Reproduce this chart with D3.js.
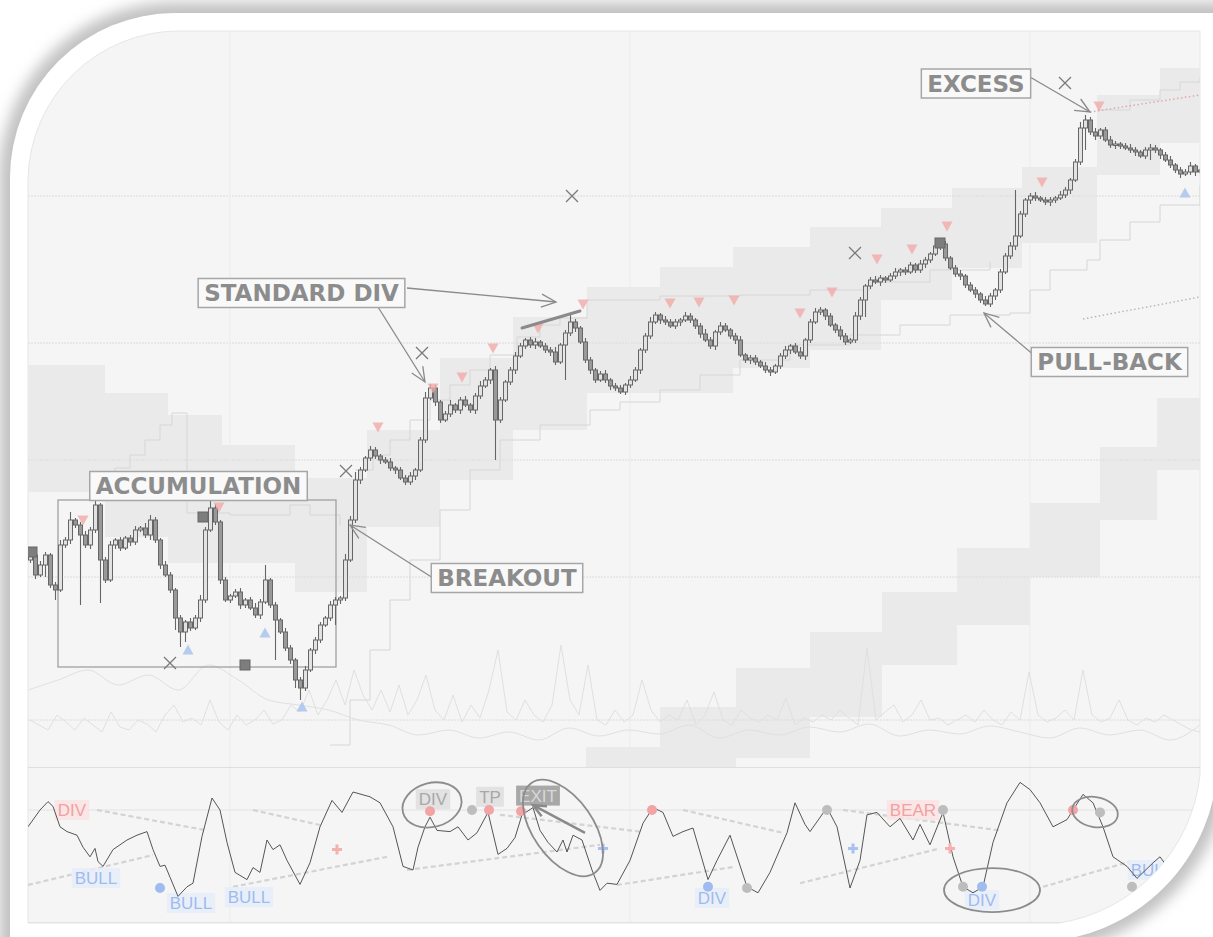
<!DOCTYPE html>
<html><head><meta charset="utf-8">
<script src="https://cdn.jsdelivr.net/npm/d3@7/dist/d3.min.js"></script>
<style>html,body{margin:0;padding:0;background:#fff;overflow:hidden}svg{display:block}</style>
</head><body>
<svg id="chart" width="1213" height="937"></svg>
<script>
// ---------------- DATA ----------------
const firstOpen = 240;
const closes = [
245,225,235,245,215,210,255,260,280,275,265,255,270,295,240,220,255,260,252,262,
258,270,272,265,280,260,235,225,210,182,168,178,172,182,200,270,292,278,220,200,
204,208,195,200,192,185,198,220,195,180,168,152,140,120,112,130,150,160,175,182,
195,200,202,240,280,320,330,342,350,344,340,338,332,330,322,318,324,330,360,402,
412,398,380,386,395,390,400,395,390,404,414,420,430,380,400,418,430,444,454,460,
455,458,454,450,448,438,455,467,478,472,458,440,430,420,426,420,414,412,408,415,
420,430,450,464,478,485,480,478,474,478,480,484,480,474,466,460,454,468,474,470,
464,460,445,440,442,438,434,430,428,434,444,450,454,448,444,460,478,488,490,484,
475,470,464,458,460,484,500,514,520,518,522,520,524,528,530,528,535,530,536,540,
546,554,556,542,532,526,524,515,510,506,500,496,504,510,528,544,554,564,586,600,
604,602,600,598,600,602,605,610,620,638,672,680,668,664,670,660,655,656,654,652,
650,648,644,650,652,650,645,640,635,630,626,628,634,628,630];
const wickUp = [
3,2,4,3,2,3,5,3,8,2,3,4,3,7,2,3,4,2,3,2,
3,4,2,5,5,3,2,4,3,2,3,2,4,3,5,3,8,4,2,3,
2,3,4,2,3,5,3,15,2,3,2,4,3,2,3,4,2,3,3,2,
4,3,2,6,4,8,3,2,4,3,2,3,4,2,3,3,4,2,3,6,
4,3,2,3,5,2,3,4,2,3,5,3,2,4,3,2,3,4,3,2,
3,4,2,3,3,5,2,3,9,3,2,4,3,2,3,4,2,3,3,2,
4,3,2,3,5,3,2,4,3,3,2,4,3,2,3,5,3,2,4,3,
2,3,4,2,3,3,2,4,3,2,3,4,2,3,5,2,3,4,3,2,
3,2,4,3,2,4,3,2,3,4,3,2,3,4,2,3,3,2,4,3,
2,3,4,3,2,3,4,2,3,3,2,4,3,2,3,3,4,46,3,2,
3,4,2,3,3,2,4,3,2,3,6,5,3,4,2,3,4,3,2,3,
4,3,2,3,4,3,2,3,4,2,3,3,4,2,3];
const wickDn = [
3,4,2,12,3,10,2,3,4,3,70,3,4,3,43,3,2,4,3,2,
4,3,2,3,5,3,4,2,3,12,15,10,3,2,4,3,2,3,4,2,
3,2,4,3,2,3,4,2,3,40,2,3,4,8,12,3,2,4,3,2,
3,20,4,3,2,3,4,2,3,3,4,2,3,4,2,3,3,4,2,3,
2,4,3,2,3,3,4,2,3,4,3,2,4,40,3,2,3,4,2,3,
3,4,2,3,4,3,2,35,3,4,2,3,4,3,2,3,4,3,2,3,
3,2,4,3,3,2,4,3,2,3,4,2,3,3,4,2,3,4,3,2,
3,4,2,3,4,3,2,3,4,2,3,3,4,2,3,4,3,2,3,4,
2,3,4,3,2,3,4,17,3,2,4,3,2,3,4,3,2,3,3,4,
3,2,4,3,2,3,4,3,2,4,3,2,3,4,3,2,3,4,2,3,
4,3,2,3,4,3,2,3,4,2,3,22,3,4,3,2,3,4,3,2,
3,4,2,3,10,3,4,2,3,3,4,2,3,4,3];
const volume = [40,35,30,45,38,30,42,35,28,48,33,30,40,36,28,45,55,38,42,35,60,38,30,45,35,40,50,36,40,55,48,70,45,60,80,55,90,65,50,70,48,75,45,60,85,50,40,65,38,55,42,70,110,48,40,60,45,38,55,115,60,45,95,40,35,50,38,45,80,50,38,45,40,60,35,45,68,40,35,50,42,38,45,40,62,35,42,38,45,40,50,42,35,112,40,48,55,38,45,60,40,42,35,40,45,38,50,40,35,48,40,88,45,38,42,50,40,90,45,38,42,60,40,35,42,38,45,40,35,30,28];
const volatility = [70,80,90,75,85,70,95,80,60,55,50,40,35,25,30,22,28,20,32,24,30,26,35,22,30,25,33,28,36,24,30,26,34,28,22,32,25,30,20,35];

const upperZoneStart = [-0.4,15,27.6,38.4,53,67.4,82,96.6,111.4,126,140.6,156,170.2,184.4,198.4,213.4,226];
const upperZoneEnd   = [15,27.6,38.4,53,67.4,82,96.6,111.4,126,140.6,156,170.2,184.4,198.4,213.4,226,235];
const upperZoneTop   = [435,407,385,355,322,370,442,483,513,533,553,573,592,612,633,705,732];
const upperZoneBottom= [308,263,237,237,208,273,320,370,407,407,432,450,500,532,557,625,657];
const lowerZoneStart = [111.2,126,141.2,156,170.4,185.4,200,214,225.4];
const lowerZoneEnd   = [126,141.2,156,170.4,185.4,200,214,225.4,235];
const lowerZoneTop   = [53,93,132,168,208,252,297,353,402];
const lowerZoneBottom= [33,33,42,83,135,175,223,280,330];

const gridPrices = [604,457,340,223,80];
const gridBars = [40,120,200];
const oscGrid = [75];

const supportSteps = [[60,55],[64,100],[68,150],[72,200],[76,240],[82,290],[88,330],[94,360],[102,375],[112,390],[118,398],[126,410],[134,425],[142,440],[152,455],[164,465],[174,475],[184,485],[196,487],[200,510],[204,530],[211.4,540],[214,560],[220,578],[226,595],[234,615]];
const resistSteps = [[65,330],[68.6,345],[72,360],[76,380],[80,400],[84,415],[88,430],[92,445],[97.4,463],[102,475],[106,482],[111.4,500],[126,504],[142,505],[156,510],[168,518],[180,530],[192,538]];
const earlySteps = [[14,320],[17,332],[20,345],[23,360],[26,375],[28.4,387],[31.4,287],[40,285],[52,295],[56,285],[62,275]];
const topSteps = [[213.4,690],[220,700],[226,710],[230,718],[234,723]];

const bearTriBar   = [10.6,37.8,69.6,80.6,86.4,92.6,101.6,110.6,128,133.8,140.8,154,160.4,169.4,176.4,183.4,202.4,213.8];
const bearTriPrice = [280,293,373,412,423,452,472,496,497,498,500,487,508,541,551,574,618,694];
const bullTriBar   = [31.6,47,54.4,231];
const bullTriPrice = [150,167,93,607];
const crossMarkBar   = [28,63.2,78.4,108.4,165,207];
const crossMarkPrice = [137,329,447,604,547,717];
const squareBar   = [0.4,34.6,43,182];
const squarePrice = [248,283,135,557];

const labelText  = ["ACCUMULATION","STANDARD DIV","BREAKOUT","PULL-BACK","EXCESS"];
const labelBar   = [33.7,54.3,95.4,215.9,189.2];
const labelPrice = [314,507,222,438,716.5];
const rangeBox = [5.6,300,61.2,133];
const arrowFrom = [[69.6,493],[75.4,512],[80.6,222],[201,444],[200,723]];
const arrowTo   = [[79,418],[105.2,498],[64,275],[190.8,487],[212,688]];
const divLine = [[98.4,472],[110,489]];
const dottedLines = [[212,688,234,705,"bear"],[210.6,481,234,503,"flat"]];

const oscBar = [-0.4,2,3.6,4.6,6,7.4,9.4,10.6,12,13,
13.6,14.6,16.6,19.4,21.4,23.4,24.6,26,27,28,
29.6,31.4,32.6,34.4,36.4,38,39.4,41,43.4,44.6,
46,47.4,48.6,50,51.4,54,56,58,60.4,62.4,
64.6,68,70,72.6,74.6,76.6,77.6,79,80,81.4,
84,85.6,87.6,89.4,91.6,93.6,95.4,97,98.4,100.6,
102,103.6,105.4,106.6,107.4,108.6,110.4,112.4,114,115.4,
117.4,120,122.6,124.6,126.6,128.6,130.6,132.6,135.6,137.4,
140,143.4,145.6,148,151.4,153,155,156,159.4,161.4,
164,166,167.4,169.4,172,174,176.6,178,180,182.6,
184.6,186.6,188.6,190.6,192.6,195.4,198,200,202,204.6,
207.4,210.6,212.6,214.6,216.6,219.4,221.4,224.6,226,227.4,
231,234];
const oscVal = [61,75,82,78,61,57,54,44,36,43,
32,28,42,50,54,57,42,28,29,19,
3,11,14,53,85,75,48,23,17,27,
23,50,42,46,33,13,31,61,83,73,
90,86,81,61,28,25,44,61,69,58,
57,61,50,56,73,38,43,52,71,77,
58,48,40,50,40,54,50,25,8,14,
13,33,64,77,73,53,57,60,17,33,
54,11,6,23,56,81,63,57,77,61,
10,33,71,73,61,68,50,63,46,73,
36,11,6,11,48,81,98,92,81,61,
67,88,81,61,36,28,18,31,36,28,
33,38];
const oscTrend = [[-0.4,12.5,24.6,37.5],[13.4,75,35.4,58],[44.6,75,58,62.5],[40.6,11,71.4,36],[75.4,25,114,46],[94,71,122,57],[130.6,75,150.6,56],[117.4,12.5,140.6,27.5],[154,14,182,43],[162.6,75,194,58],[202.6,11,220,32]];
const oscLabelText = ["DIV","BULL","BULL","BULL","DIV","TP","EXIT","DIV","BEAR","DIV","BULL"];
const oscLabelBar  = [8.4,13.2,32.2,43.8,80.6,92,101.6,136.4,176.6,190.4,224.4];
const oscLabelVal  = [75,18.3,-2.5,2.5,84,86,87,1.7,75,0,25];
const oscLabelKind = ["bear","bull","bull","bull","note","note","exit","bull","bear","bull","bull"];
const oscDotBar  = [26,80,88.4,91.8,98.2,124.4,135.6,143.4,159.4,182.6,186.6,190.4,208.6,214,220.4];
const oscDotVal  = [10,74,75,75,74,75,11,10,75,75,11,11,75,73,11];
const oscDotKind = ["bull","bear","flat","bear","bear","bear","bull","flat","flat","flat","flat","bull","bear","flat","flat"];
const oscCrossBar  = [61.4,114.6,164.6,184];
const oscCrossVal  = [42,43,43,43];
const oscCrossKind = ["bear","bull","bull","bear"];
const circleBar = [80.4,106.6,192.4,213];
const circleVal = [79.2,60,8.3,73.3];
const exitArrow = [[111,56],[100.6,79]];

// ---------------- SCALES ----------------
const x  = d3.scaleLinear().domain([0,234]).range([30,1200]);
const y  = d3.scaleLinear().domain([0,800]).range([800,0]);
const yo = d3.scaleLinear().domain([0,100]).range([900,780]);
const yv = d3.scaleLinear().domain([0,120]).range([760,640]);
const xv = d3.scaleLinear().domain([0,volume.length-1]).range([30,1200]);
const xa = d3.scaleLinear().domain([0,volatility.length-1]).range([28,1200]);

const svg = d3.select("#chart");
const defs = svg.append("defs");
defs.append("filter").attr("id","blur").attr("x","-10%").attr("y","-10%").attr("width","120%").attr("height","120%")
  .append("feGaussianBlur").attr("stdDeviation",7);

const framePath = "M10,178 A165,165 0 0 1 175,13 L1218,13 L1218,757 A185,185 0 0 1 1033,942 L10,942 Z";
const panelPath = "M28,179 A151,151 0 0 1 179,31 L1200,31 L1200,775 A168,168 0 0 1 1059,923 L28,923 Z";
defs.append("clipPath").attr("id","panelClip").append("path").attr("d",panelPath);

svg.append("rect").attr("width",1213).attr("height",937).attr("fill","#fff");
svg.append("path").attr("d",framePath).attr("fill","#c2c2c2").attr("stroke","#c2c2c2").attr("stroke-width",22).attr("filter","url(#blur)");
svg.append("path").attr("d",framePath).attr("fill","#fff");
svg.append("path").attr("d",panelPath).attr("fill","#f5f5f5").attr("stroke","#e6e6e6").attr("stroke-width",1);

const g = svg.append("g").attr("clip-path","url(#panelClip)");

// zones
const zoneFill = "#eaeaea";
g.selectAll(".uz").data(upperZoneStart).join("rect")
  .attr("x",(d,i)=>x(d)).attr("width",(d,i)=>x(upperZoneEnd[i])-x(d))
  .attr("y",(d,i)=>y(upperZoneTop[i])).attr("height",(d,i)=>y(upperZoneBottom[i])-y(upperZoneTop[i]))
  .attr("fill",zoneFill);
g.selectAll(".lz").data(lowerZoneStart).join("rect")
  .attr("x",(d,i)=>x(d)).attr("width",(d,i)=>x(lowerZoneEnd[i])-x(d))
  .attr("y",(d,i)=>y(lowerZoneTop[i])).attr("height",(d,i)=>y(lowerZoneBottom[i])-y(lowerZoneTop[i]))
  .attr("fill",zoneFill);

// grid
g.selectAll(".hg").data(gridPrices).join("line").attr("x1",28).attr("x2",1200)
  .attr("y1",d=>y(d)).attr("y2",d=>y(d)).attr("stroke","#dcdcdc").attr("stroke-width",1).attr("stroke-dasharray","2,1");
g.selectAll(".vg").data(gridBars).join("line").attr("x1",d=>x(d)).attr("x2",d=>x(d))
  .attr("y1",31).attr("y2",923).attr("stroke","#ebebeb").attr("stroke-width",1);
g.selectAll(".og").data(oscGrid).join("line").attr("x1",28).attr("x2",1200)
  .attr("y1",d=>yo(d)).attr("y2",d=>yo(d)).attr("stroke","#e2e2e2").attr("stroke-width",1);
g.append("line").attr("x1",28).attr("x2",1200).attr("y1",767.5).attr("y2",767.5).attr("stroke","#dedede");
g.append("line").attr("x1",28).attr("x2",1200).attr("y1",922.5).attr("y2",922.5).attr("stroke","#e2e2e2");

// volume & volatility lines
g.append("path").datum(volume).attr("fill","none").attr("stroke","#e0e0e0").attr("stroke-width",1)
  .attr("d",d3.line().x((d,i)=>xv(i)).y(d=>yv(d)));
g.append("path").datum(volatility).attr("fill","none").attr("stroke","#e0e0e0").attr("stroke-width",1)
  .attr("d",d3.line().x((d,i)=>xa(i)).y(d=>yv(d)).curve(d3.curveMonotoneX));

// step lines
const stepLine = d3.line().x(d=>x(d[0])).y(d=>y(d[1])).curve(d3.curveStepAfter);
[supportSteps,resistSteps,earlySteps,topSteps].forEach(s=>{
  g.append("path").datum(s).attr("fill","none").attr("stroke","#d6d6d6").attr("stroke-width",1).attr("d",stepLine);
});

// dotted lines
dottedLines.forEach(d=>{
  g.append("line").attr("x1",x(d[0])).attr("y1",y(d[1])).attr("x2",x(d[2])).attr("y2",y(d[3]))
   .attr("stroke",d[4]==="bear"?"#e0a8a8":"#b8b8b8").attr("stroke-width",1.5).attr("stroke-dasharray","1.5,2.5");
});

// range box
g.append("rect").attr("x",x(rangeBox[0])).attr("y",y(rangeBox[1]))
  .attr("width",x(rangeBox[2])-x(rangeBox[0])).attr("height",y(rangeBox[3])-y(rangeBox[1]))
  .attr("fill","none").attr("stroke","#9a9a9a").attr("stroke-width",1.2);

// candles
const candles = closes.map((c,i)=>{const o=i?closes[i-1]:firstOpen;return {i,o,c,h:Math.max(o,c)+wickUp[i],l:Math.min(o,c)-wickDn[i]};});
g.selectAll(".wick").data(candles).join("line")
  .attr("x1",d=>x(d.i)+0.5).attr("x2",d=>x(d.i)+0.5).attr("y1",d=>y(d.h)).attr("y2",d=>y(d.l))
  .attr("stroke","#666").attr("stroke-width",1.1);
g.selectAll(".body").data(candles).join("rect")
  .attr("x",d=>x(d.i)-1.5).attr("width",4)
  .attr("y",d=>y(Math.max(d.o,d.c))).attr("height",d=>Math.max(1.5,Math.abs(y(d.o)-y(d.c))))
  .attr("fill",d=>d.c>=d.o?"#e2e2e2":"#999").attr("stroke","#666").attr("stroke-width",1);

// markers
g.selectAll(".bt").data(bearTriBar).join("path")
  .attr("transform",(d,i)=>`translate(${x(d)},${y(bearTriPrice[i])})`)
  .attr("d","M-5.5,-4.5 L5.5,-4.5 L0,5.5 Z").attr("fill","#f2a9a9").attr("opacity",0.8);
g.selectAll(".ut").data(bullTriBar).join("path")
  .attr("transform",(d,i)=>`translate(${x(d)},${y(bullTriPrice[i])})`)
  .attr("d","M-5.5,4.5 L5.5,4.5 L0,-5.5 Z").attr("fill","#a9c3ef").attr("opacity",0.85);
g.selectAll(".xm").data(crossMarkBar).join("path")
  .attr("transform",(d,i)=>`translate(${x(d)},${y(crossMarkPrice[i])})`)
  .attr("d","M-6,-6 L6,6 M-6,6 L6,-6").attr("stroke","#7a7a7a").attr("stroke-width",1.3).attr("fill","none");
g.selectAll(".sq").data(squareBar).join("rect")
  .attr("x",d=>x(d)-5).attr("y",(d,i)=>y(squarePrice[i])-5).attr("width",10).attr("height",10)
  .attr("fill","#7d7d7d").attr("stroke","#666").attr("stroke-width",1);

// divergence line
g.append("line").attr("x1",x(divLine[0][0])).attr("y1",y(divLine[0][1])).attr("x2",x(divLine[1][0])).attr("y2",y(divLine[1][1]))
  .attr("stroke","#8a8a8a").attr("stroke-width",3).attr("stroke-linecap","round");

// arrows
function arrow(grp,X1,Y1,X2,Y2,w,len){
  const a=Math.atan2(Y2-Y1,X2-X1), s=0.42;
  grp.append("line").attr("x1",X1).attr("y1",Y1).attr("x2",X2).attr("y2",Y2).attr("stroke","#8a8a8a").attr("stroke-width",w);
  grp.append("path").attr("d",`M${X2-len*Math.cos(a-s)},${Y2-len*Math.sin(a-s)} L${X2},${Y2} L${X2-len*Math.cos(a+s)},${Y2-len*Math.sin(a+s)}`)
    .attr("fill","none").attr("stroke","#8a8a8a").attr("stroke-width",w);
}
arrowFrom.forEach((f,i)=>arrow(g,x(f[0]),y(f[1]),x(arrowTo[i][0]),y(arrowTo[i][1]),1.3,16));

// labels
labelText.forEach((t,i)=>{
  const cx=x(labelBar[i]), cy=y(labelPrice[i]);
  const grp=g.append("g");
  const r=grp.append("rect");
  const tx=grp.append("text").attr("x",cx).attr("y",cy+8).attr("text-anchor","middle")
    .attr("font-family","DejaVu Sans, Verdana, sans-serif").attr("font-weight","bold").attr("font-size",23)
    .attr("fill","#8c8c8c").text(t);
  const w=tx.node().getComputedTextLength()+12;
  r.attr("x",cx-w/2).attr("y",cy-14.5).attr("width",w).attr("height",29)
   .attr("fill","#f9f9f9").attr("stroke","#a6a6a6").attr("stroke-width",1.5);
});

// ---------------- OSCILLATOR ----------------
g.selectAll(".ot").data(oscTrend).join("line")
  .attr("x1",d=>x(d[0])).attr("y1",d=>yo(d[1])).attr("x2",d=>x(d[2])).attr("y2",d=>yo(d[3]))
  .attr("stroke","#d3d3d3").attr("stroke-width",2.2).attr("stroke-dasharray","5,3");

const labelStyle = {
  bear:{fg:"#f1a1a1",bg:"#fae3e3"},
  bull:{fg:"#9fbbee",bg:"#e6edf9"},
  note:{fg:"#a8a8a8",bg:"#dedede"},
  exit:{fg:"#d8d8d8",bg:"#9a9a9a"}
};
oscLabelText.forEach((t,i)=>{
  const st=labelStyle[oscLabelKind[i]];
  const cx=x(oscLabelBar[i]), cy=yo(oscLabelVal[i]);
  const grp=g.append("g");
  const r=grp.append("rect");
  const tx=grp.append("text").attr("x",cx).attr("y",cy+6).attr("text-anchor","middle")
    .attr("font-family","Liberation Sans, Arial, sans-serif").attr("font-size",17).attr("fill",st.fg).text(t);
  const w=tx.node().getComputedTextLength()+6;
  r.attr("x",cx-w/2).attr("y",cy-10).attr("width",w).attr("height",20).attr("fill",st.bg).attr("opacity",0.85);
});

g.append("path").datum(oscBar).attr("fill","none").attr("stroke","#555").attr("stroke-width",1)
  .attr("d",d3.line().x(d=>x(d)).y((d,i)=>yo(oscVal[i])));

const dotColor={bear:"#f2a3a3",bull:"#9fbbef",flat:"#bdbdbd"};
g.selectAll(".od").data(oscDotBar).join("circle")
  .attr("cx",d=>x(d)).attr("cy",(d,i)=>yo(oscDotVal[i])).attr("r",5)
  .attr("fill",(d,i)=>dotColor[oscDotKind[i]]);
g.selectAll(".oc").data(oscCrossBar).join("path")
  .attr("transform",(d,i)=>`translate(${x(d)},${yo(oscCrossVal[i])})`)
  .attr("d","M-5,0 L5,0 M0,-5 L0,5").attr("stroke",(d,i)=>oscCrossKind[i]==="bear"?"#f5b0b0":"#a9c1f0")
  .attr("stroke-width",3);

const circleShape=[[30,22,-15],[55,30,55],[48,22,0],[23,15,10]];
circleBar.forEach((b,i)=>{
  const s=circleShape[i];
  g.append("ellipse").attr("cx",0).attr("cy",0).attr("rx",s[0]).attr("ry",s[1])
   .attr("transform",`translate(${x(b)},${yo(circleVal[i])}) rotate(${s[2]})`)
   .attr("fill","none").attr("stroke","#8c8c8c").attr("stroke-width",1.8);
});
arrow(g,x(exitArrow[0][0]),yo(exitArrow[0][1]),x(exitArrow[1][0]),yo(exitArrow[1][1]),2.5,14);
</script>
</body></html>
